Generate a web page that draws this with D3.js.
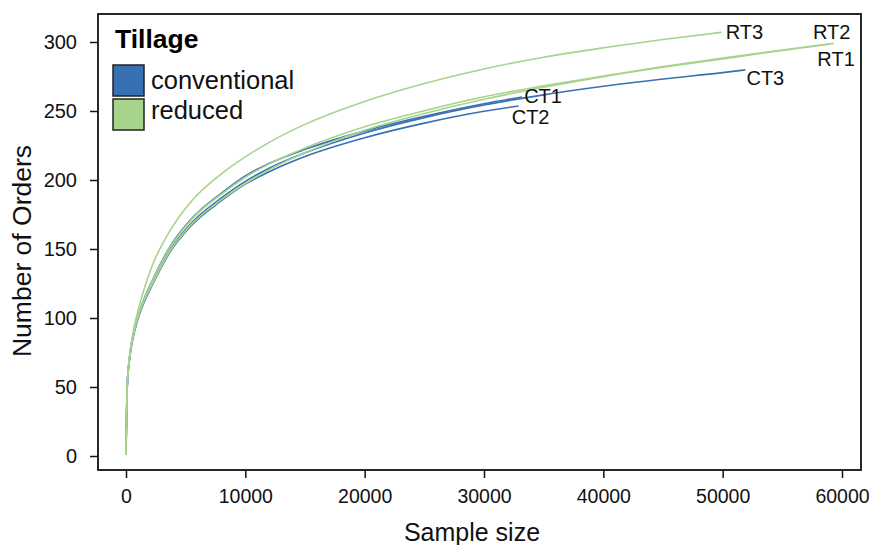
<!DOCTYPE html>
<html>
<head>
<meta charset="utf-8">
<script src="https://cdn.jsdelivr.net/npm/d3@7"></script>
<style>
  html, body { margin: 0; padding: 0; background: #fff; }
  svg { display: block; font-family: "Liberation Sans", Arial, sans-serif; }
</style>
</head>
<body>
<svg id="chart" width="870" height="545"></svg>
<script>
// ---- data ----
const sampleNames = ["CT1", "CT2", "CT3", "RT1", "RT2", "RT3"];
const sampleTillage = ["conventional", "conventional", "conventional", "reduced", "reduced", "reduced"];
const tillageLevels = ["conventional", "reduced"];

const sizesCT1 = [1, 100, 300, 600, 1000, 1500, 2200, 3600, 5500, 8000, 10000, 12000, 15000, 20000, 25000, 30000, 33200];
const ordersCT1 = [1, 51, 72, 88, 101, 113.5, 127, 150.5, 172, 190.5, 203, 212, 222.2, 235.6, 246.2, 255.3, 260.2];

const sizesCT2 = [1, 100, 300, 600, 1000, 1500, 2200, 3600, 5500, 8000, 10000, 12000, 15000, 20000, 25000, 30000, 32900];
const ordersCT2 = [1, 49, 70, 86, 99, 111, 123.8, 146.5, 167.2, 185, 197, 206, 217, 230.6, 241.2, 249.8, 253.6];

const sizesCT3 = [1, 100, 300, 600, 1000, 1500, 2200, 3600, 5500, 8000, 10000, 12000, 15000, 20000, 25000, 30000, 35000, 40000, 45000, 50000, 51900];
const ordersCT3 = [1, 50, 71, 87, 100, 112, 125, 148, 169, 187, 199, 208.5, 219.7, 234.1, 245.2, 254.3, 261.7, 267.9, 273.2, 277.8, 279.8];

const sizesRT1 = [1, 100, 300, 600, 1000, 1500, 2200, 3600, 5500, 8000, 10000, 12000, 15000, 20000, 25000, 30000, 35000, 40000, 45000, 50000, 55000, 59000];
const ordersRT1 = [1, 50, 71, 87, 100, 112, 124.5, 147.3, 168, 185.8, 197.5, 207.5, 219.7, 236.1, 248.2, 258.5, 267.2, 274.9, 281.7, 287.8, 293.9, 298.5];

const sizesRT2 = [1, 100, 300, 600, 1000, 1500, 2200, 3600, 5500, 8000, 10000, 12000, 15000, 20000, 25000, 30000, 35000, 40000, 45000, 50000, 55000, 59300];
const ordersRT2 = [1, 51, 72, 88, 101, 113, 126.5, 149.8, 171.5, 189.8, 202, 211.7, 223.2, 238.6, 250.2, 260.3, 268.2, 275.4, 282.2, 288.3, 294.2, 299];

const sizesRT3 = [1, 100, 300, 600, 1000, 1500, 2200, 3600, 5500, 8000, 10000, 12000, 15000, 20000, 25000, 30000, 35000, 40000, 45000, 49900];
const ordersRT3 = [1, 51, 72, 90, 105, 120.5, 138, 162, 184.8, 204.5, 216.7, 227.3, 240.3, 256.9, 269.9, 280.5, 289, 295.8, 301.8, 307];

const xTicks = [0, 10000, 20000, 30000, 40000, 50000, 60000];
const yTicks = [0, 50, 100, 150, 200, 250, 300];

// ---- style / layout ----
const tillageColors = { conventional: "#3870b4", reduced: "#a6d48c" };
const labelOffsets = { // text offsets from curve end, in px
  CT1: [2, -1, "start"], CT2: [12, 11, "middle"], CT3: [20, 8, "middle"],
  RT1: [6, 15, "middle"], RT2: [-2, -11, "middle"], RT3: [23, 0, "middle"]
};
const box = { left: 98, top: 14, right: 861, bottom: 470 };

const series = [
  { name: "CT1", sizes: sizesCT1, orders: ordersCT1 },
  { name: "CT2", sizes: sizesCT2, orders: ordersCT2 },
  { name: "CT3", sizes: sizesCT3, orders: ordersCT3 },
  { name: "RT1", sizes: sizesRT1, orders: ordersRT1 },
  { name: "RT2", sizes: sizesRT2, orders: ordersRT2 },
  { name: "RT3", sizes: sizesRT3, orders: ordersRT3 }
].map(s => ({
  name: s.name,
  tillage: sampleTillage[sampleNames.indexOf(s.name)],
  points: s.sizes.map((v, i) => ({ size: v, orders: s.orders[i] }))
}));

const svg = d3.select("#chart");
const x = d3.scaleLinear().domain([0, 60000]).range([126, 842]);
const y = d3.scaleLinear().domain([0, 300]).range([456, 42]);

// axes (R base style: ticks outside the box)
const xAxis = svg.append("g")
  .attr("transform", `translate(0,${box.bottom})`)
  .call(d3.axisBottom(x).tickValues(xTicks).tickFormat(d3.format("d")).tickSize(8).tickPadding(11));
xAxis.select(".domain").remove();
xAxis.selectAll("text").attr("font-size", 19.5).attr("fill", "#111")
  .attr("font-family", "Liberation Sans, Arial, sans-serif");
xAxis.selectAll("line").attr("stroke", "#111").attr("stroke-width", 1.5);

const yAxis = svg.append("g")
  .attr("transform", `translate(${box.left},0)`)
  .call(d3.axisLeft(y).tickValues(yTicks).tickSize(8).tickPadding(13));
yAxis.select(".domain").remove();
yAxis.selectAll("text").attr("font-size", 20).attr("fill", "#111")
  .attr("font-family", "Liberation Sans, Arial, sans-serif");
yAxis.selectAll("line").attr("stroke", "#111").attr("stroke-width", 1.5);

// curves
const line = d3.line()
  .x(d => x(d.size))
  .y(d => y(d.orders))
  .curve(d3.curveMonotoneX);

svg.append("g").selectAll("path")
  .data(series)
  .join("path")
  .attr("d", d => line(d.points))
  .attr("fill", "none")
  .attr("stroke", d => tillageColors[d.tillage])
  .attr("stroke-width", 1.6);

// curve labels
svg.append("g").selectAll("text")
  .data(series)
  .join("text")
  .attr("x", d => x(d.points[d.points.length - 1].size) + labelOffsets[d.name][0])
  .attr("y", d => y(d.points[d.points.length - 1].orders) + labelOffsets[d.name][1])
  .attr("text-anchor", d => labelOffsets[d.name][2])
  .attr("dominant-baseline", "central")
  .attr("font-size", 20)
  .attr("fill", "#111")
  .text(d => d.name);

// box
svg.append("rect")
  .attr("x", box.left).attr("y", box.top)
  .attr("width", box.right - box.left).attr("height", box.bottom - box.top)
  .attr("fill", "none").attr("stroke", "#111").attr("stroke-width", 1.8);

// legend
const legend = svg.append("g");
legend.append("text")
  .attr("x", 115).attr("y", 48)
  .attr("font-size", 26.5).attr("font-weight", "bold").attr("fill", "#000")
  .text("Tillage");
const legItems = legend.selectAll("g.item")
  .data(tillageLevels)
  .join("g")
  .attr("class", "item");
legItems.append("rect")
  .attr("x", 113)
  .attr("y", (d, i) => 65 + i * 34)
  .attr("width", 31).attr("height", 31)
  .attr("fill", d => tillageColors[d])
  .attr("stroke", "#222").attr("stroke-width", 1.5);
legItems.append("text")
  .attr("x", 151)
  .attr("y", (d, i) => 89 + i * 30)
  .attr("font-size", 25.5).attr("fill", "#111")
  .text(d => d);

// axis titles
svg.append("text")
  .attr("x", 472).attr("y", 541)
  .attr("text-anchor", "middle")
  .attr("font-size", 25).attr("fill", "#111")
  .text("Sample size");
svg.append("text")
  .attr("transform", "translate(31,251) rotate(-90)")
  .attr("text-anchor", "middle")
  .attr("font-size", 26.5).attr("fill", "#111")
  .text("Number of Orders");
</script>
</body>
</html>
